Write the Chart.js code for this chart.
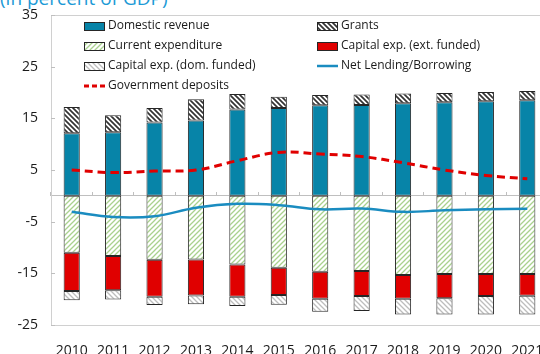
<!DOCTYPE html>
<html>
<head>
<meta charset="utf-8">
<script src="https://cdn.jsdelivr.net/npm/chart.js@4"></script>
<style>
    body { margin: 0; background: #fff; }
    #wrap { position: relative; width: 540px; height: 354px; overflow: hidden; }
    #title {
        position: absolute; left: 0; top: -15px;
        font: 19px "Open Sans", sans-serif; color: #1C9AD6; white-space: nowrap;
    }
    #fiscal-chart { position: absolute; left: 0; top: 0; }
</style>
</head>
<body>
<div id="wrap">
    <div id="title">(in percent of GDP)</div>
    <canvas id="fiscal-chart" width="580" height="354"></canvas>
</div>
<script>
// fiscal operations, 2010-2021

const years = ["2010", "2011", "2012", "2013", "2014", "2015", "2016", "2017", "2018", "2019", "2020", "2021"];

const domesticRevenue = [12.1, 12.3, 14.2, 14.6, 16.7, 17.0, 17.55, 17.6, 17.9, 18.1, 18.3, 18.5];
const grants = [5.1, 3.3, 2.8, 4.1, 3.0, 2.2, 1.95, 2.0, 1.9, 1.8, 1.8, 1.8];
const currentExpenditure = [-11.0, -11.65, -12.35, -12.3, -13.3, -13.9, -14.7, -14.55, -15.3, -15.15, -15.15, -15.15];
const capitalExtFunded = [-7.4, -6.6, -7.2, -7.0, -6.25, -5.3, -5.2, -4.85, -4.6, -4.65, -4.25, -4.2];
const capitalDomFunded = [-1.8, -1.8, -1.6, -1.7, -1.75, -1.9, -2.55, -2.9, -3.05, -3.15, -3.55, -3.6];
const netLending = [-3.1, -4.1, -3.95, -2.3, -1.55, -1.8, -2.6, -2.45, -3.1, -2.8, -2.6, -2.5];
const govDeposits = [5.0, 4.5, 4.8, 5.0, 6.8, 8.4, 8.1, 7.6, 6.4, 5.0, 3.95, 3.3];

const yTicks = [-25, -15, -5, 5, 15, 25, 35];

const axisGray = '#BFBFBF';
const textColor = '#1a1a1a';
const barEdge = '#262626';

// diagonal hatch fills
function stripes(fg, size, width, dir) {
    const c = document.createElement('canvas');
    c.width = c.height = size;
    const g = c.getContext('2d');
    g.fillStyle = '#fff';
    g.fillRect(0, 0, size, size);
    g.strokeStyle = fg;
    g.lineWidth = width;
    g.beginPath();
    if (dir === 'down') {
        g.moveTo(-1, -1); g.lineTo(size + 1, size + 1);
        g.moveTo(-1, size - 1); g.lineTo(1, size + 1);
        g.moveTo(size - 1, -1); g.lineTo(size + 1, 1);
    } else {
        g.moveTo(-1, size + 1); g.lineTo(size + 1, -1);
        g.moveTo(-1, 1); g.lineTo(1, -1);
        g.moveTo(size - 1, size + 1); g.lineTo(size + 1, size - 1);
    }
    g.stroke();
    return g.createPattern(c, 'repeat');
}

const grantsFill = stripes('#333', 5, 1.7, 'down');
const currentFill = stripes('#A9D18E', 5, 1.3, 'up');
const domFill = stripes('#BDBDBD', 5, 1.3, 'down');

function bar(label, data, fill) {
    return {
        type: 'bar', label, data, order: 1,
        backgroundColor: fill,
        borderColor: barEdge,
        borderWidth: 1,
        borderSkipped: false,
        barPercentage: 0.39,
        categoryPercentage: 1
    };
}

const fiscalData = {
    labels: years,
    datasets: [
        bar('Domestic revenue', domesticRevenue, '#0784A8'),
        bar('Grants', grants, grantsFill),
        bar('Current expenditure', currentExpenditure, currentFill),
        bar('Capital exp. (ext. funded)', capitalExtFunded, '#E00000'),
        bar('Capital exp. (dom. funded)', capitalDomFunded, domFill),
        {
            type: 'line', label: 'Net Lending/Borrowing', data: netLending,
            stack: 'nlb', order: 0,
            borderColor: '#1A8CC0', borderWidth: 2.5,
            pointRadius: 0, tension: 0.4, fill: false
        },
        {
            type: 'line', label: 'Government deposits', data: govDeposits,
            stack: 'dep', order: 0,
            borderColor: '#E00000', borderWidth: 3, borderDash: [8, 5],
            pointRadius: 0, tension: 0.4, fill: false
        }
    ]
};

// gray box around the plot area, with short inside ticks on the left
const plotFrame = {
    id: 'plotFrame',
    beforeDatasetsDraw(chart) {
        const { ctx, chartArea: a } = chart;
        const y = chart.scales.y;
        ctx.save();
        ctx.strokeStyle = '#D0D0D0';
        ctx.lineWidth = 1;
        ctx.strokeRect(Math.round(a.left) + 0.5, Math.round(a.top) + 0.5, a.right - a.left, a.bottom - a.top);
        ctx.strokeStyle = axisGray;
        ctx.beginPath();
        yTicks.forEach(v => {
            const py = Math.round(y.getPixelForValue(v)) + 0.5;
            ctx.moveTo(a.left, py);
            ctx.lineTo(a.left + 4, py);
        });
        ctx.stroke();
        ctx.restore();
    }
};

// two-column legend inside the plot
const legendSlots = [[0, 0, 0], [1, 1, 0], [2, 0, 1], [3, 1, 1], [4, 0, 2], [5, 1, 2], [6, 0, 3]];

const boxLegend = {
    id: 'boxLegend',
    afterDraw(chart) {
        const ctx = chart.ctx;
        const colX = [84, 317];
        ctx.save();
        ctx.font = '12px "Open Sans", sans-serif';
        ctx.textBaseline = 'middle';
        ctx.fillStyle = textColor;
        legendSlots.forEach(([i, col, row]) => {
            const ds = chart.data.datasets[i];
            const x = colX[col];
            const y = 26 + row * 20;
            if (ds.type === 'bar') {
                ctx.fillStyle = ds.backgroundColor;
                ctx.fillRect(x, y - 4, 21, 8);
                ctx.strokeStyle = barEdge;
                ctx.lineWidth = 1;
                ctx.strokeRect(x + 0.5, y - 3.5, 20, 8);
            } else {
                ctx.strokeStyle = ds.borderColor;
                ctx.lineWidth = ds.borderWidth;
                ctx.setLineDash(ds.borderDash ? [5, 3] : []);
                ctx.beginPath();
                ctx.moveTo(x, y);
                ctx.lineTo(x + 21, y);
                ctx.stroke();
                ctx.setLineDash([]);
            }
            ctx.fillStyle = textColor;
            ctx.fillText(ds.label, x + 24, y);
        });
        ctx.restore();
    }
};

const fiscalOptions = {
    responsive: false,
    devicePixelRatio: 1,
    animation: false,
    layout: {
        padding: { top: 15, right: 32, left: 0, bottom: 0 }
    },
    scales: {
        x: {
            stacked: true,
            grid: { display: false },
            border: { display: true, color: '#D0D0D0' },
            ticks: {
                color: textColor,
                font: { family: '"Open Sans", sans-serif', size: 14 },
                padding: 10,
                maxRotation: 0,
                autoSkip: false
            },
            afterFit: s => { s.height = 29; }
        },
        zero: {
            type: 'category',
            axis: 'x',
            position: { y: 0 },
            offset: true,
            grid: { display: true, offset: true, drawOnChartArea: false, tickLength: -4, color: axisGray },
            border: { display: true, color: axisGray },
            ticks: { display: false }
        },
        y: {
            stacked: true,
            min: -25,
            max: 35,
            afterBuildTicks: s => { s.ticks = yTicks.map(v => ({ value: v })); },
            grid: { display: true, drawOnChartArea: false, tickLength: 13, tickColor: 'transparent' },
            border: { display: true, color: '#D0D0D0' },
            ticks: {
                color: textColor,
                font: { family: '"Open Sans", sans-serif', size: 14 },
                padding: 0
            },
            afterFit: s => { s.width = 51; }
        }
    },
    plugins: {
        legend: { display: false },
        tooltip: { enabled: false }
    }
};

let fiscalChart = new Chart(document.getElementById('fiscal-chart'), {
    type: 'bar',
    data: fiscalData,
    options: fiscalOptions,
    plugins: [plotFrame, boxLegend]
});
</script>
</body>
</html>
